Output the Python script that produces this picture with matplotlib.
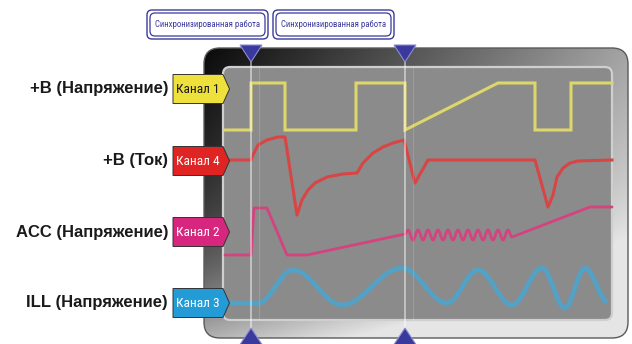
import numpy as np
import matplotlib
matplotlib.use("Agg")
import matplotlib.pyplot as plt
from matplotlib.patches import FancyBboxPatch, Polygon, PathPatch
from matplotlib.path import Path

# ---- waveform data (screen coordinates: x to the right, y downward) ----
# Channel 1: +B voltage
ch1_x = [225, 251, 251, 285, 285, 356, 356, 405, 405, 498, 535, 535, 571, 571, 612]
ch1_y = [130, 130, 83, 83, 130, 130, 83, 83, 130, 83, 83, 130, 130, 83, 83]

# Channel 4: +B current
ch4_x = [225, 251, 253, 258, 267, 278, 285, 297, 302, 308, 315, 327, 343, 357,
         363, 373, 383, 393, 404, 415, 428, 535, 548, 553, 557, 563, 570, 578, 612]
ch4_y = [160, 160, 155, 145, 140, 137, 137, 215, 200, 190, 183, 177, 174, 173,
         163, 153, 147, 143, 140, 183, 160, 160, 207, 195, 177, 168, 163, 161, 160]

# Channel 2: ACC voltage (step, ramp, ripple, ramp)
ch2_x = [225, 251, 254, 267, 287, 307, 405]
ch2_y = [255, 255, 208, 208, 255, 255, 234]
ch2_ripple_x = [405, 408, 413, 418, 423, 428, 433, 438, 443, 448, 453, 458,
                463, 468, 473, 478, 483, 488, 493, 498, 503, 508, 512]
ch2_ripple_y = [234, 230, 240, 230, 240, 230, 240, 230, 240, 230, 240, 230,
                240, 230, 240, 230, 240, 230, 240, 230, 240, 230, 237]
ch2_tail_x = [512, 590, 612]
ch2_tail_y = [237, 207, 207]

# Channel 3: ILL voltage (turning points of the oscillation)
ch3_x = [225, 258, 293, 342, 402, 447, 478, 512, 542, 565, 585, 608]
ch3_y = [303, 303, 270, 305, 268, 303, 270, 305, 268, 308, 268, 302]

# synchronisation markers
sync_x = [251, 405]
sync_text = "Синхронизированная работа"

# channel tags
tag_names = ["Канал 1", "Канал 4", "Канал 2", "Канал 3"]
tag_colors = ["#efe13c", "#e02424", "#d6267e", "#239bd6"]
tag_text_colors = ["#1a1a1a", "white", "white", "white"]
signal_labels = ["+B (Напряжение)", "+B (Ток)", "ACC (Напряжение)", "ILL (Напряжение)"]
tag_y = [89, 161, 232, 303]

NARROW = ["Roboto Condensed", "Liberation Sans Narrow", "DejaVu Sans"]
BOLD = ["Liberation Sans", "DejaVu Sans"]
NAVY = "#3a3a9e"

W, H = 632, 344
fig = plt.figure(figsize=(W / 100, H / 100), dpi=100)
ax = fig.add_axes([0, 0, 1, 1])
ax.set_xlim(0, W)
ax.set_ylim(H, 0)
ax.axis("off")


def smooth_path(xs, ys, k=0.36):
    verts = [(xs[0], ys[0])]
    codes = [Path.MOVETO]
    for x0, y0, x1, y1 in zip(xs[:-1], ys[:-1], xs[1:], ys[1:]):
        d = x1 - x0
        verts += [(x0 + k * d, y0), (x1 - k * d, y1), (x1, y1)]
        codes += [Path.CURVE4] * 3
    return Path(verts, codes)


# ---- oscilloscope body with shaded bezel ----
fx0, fx1, fy0, fy1 = 204, 628, 48, 338
frame = FancyBboxPatch((fx0, fy0), fx1 - fx0, fy1 - fy0,
                       boxstyle="round,pad=0,rounding_size=16",
                       facecolor="none", edgecolor="#5a5a5a", lw=1.0, zorder=3)
ax.add_patch(frame)
u, v = np.meshgrid(np.linspace(0, 1, 300), np.linspace(0, 1, 200))
shade = np.clip(0.04 + 0.6 * u + 0.3 * v + 0.35 * v ** 4, 0, 0.9)
img = ax.imshow(np.dstack([shade, shade, shade]), extent=(fx0, fx1, fy1, fy0),
                origin="upper", aspect="auto", interpolation="bilinear", zorder=1)
img.set_clip_path(frame)

# screen
sx0, sx1, sy0, sy1 = 223, 612, 67, 320
screen = FancyBboxPatch((sx0, sy0), sx1 - sx0, sy1 - sy0,
                        boxstyle="round,pad=0,rounding_size=7",
                        facecolor="#8b8b8c", edgecolor="#cfcfcf", lw=1.6, zorder=2)
ax.add_patch(screen)
ax.set_xlim(0, W)
ax.set_ylim(H, 0)

# ---- signals ----
ax.plot(ch1_x, ch1_y, color="#ddd66a", lw=2.2, solid_joinstyle="miter", zorder=4)
ax.plot(ch4_x, ch4_y, color="#d94444", lw=2.2, solid_joinstyle="round", zorder=4)
ax.plot(ch2_x, ch2_y, color="#d4437f", lw=2.0, solid_capstyle="round", zorder=4)
ax.add_patch(PathPatch(smooth_path(ch2_ripple_x, ch2_ripple_y), facecolor="none",
                       edgecolor="#d4437f", lw=2.0, zorder=4))
ax.plot(ch2_tail_x, ch2_tail_y, color="#d4437f", lw=2.0, solid_capstyle="round", zorder=4)
ax.add_patch(PathPatch(smooth_path(ch3_x, ch3_y), facecolor="none",
                       edgecolor="#4aa5cf", lw=3.4, alpha=0.85, zorder=4))

# ---- sync markers ----
for sx in sync_x:
    ax.plot([sx, sx], [58, 334], color="white", lw=1.2, alpha=0.55, zorder=5)
    ax.plot([sx + 8, sx + 8], [67, 320], color="white", lw=0.8, alpha=0.15, zorder=5)
    ax.add_patch(Polygon([(sx - 11, 45), (sx + 11, 45), (sx, 62)], closed=True,
                         facecolor=NAVY, edgecolor="#8c8cd0", lw=0.8, zorder=6))
    ax.add_patch(Polygon([(sx - 12, 346), (sx + 12, 346), (sx, 328)], closed=True,
                         facecolor=NAVY, edgecolor="#8c8cd0", lw=0.8, zorder=6))

for cx in [207.5, 333.5]:
    for pad, lw in [(0, 1.0), (3, 0.9)]:
        ax.add_patch(FancyBboxPatch((cx - 60.5 + pad, 10 + pad), 121 - 2 * pad, 29 - 2 * pad,
                                    boxstyle="round,pad=0,rounding_size=5",
                                    facecolor="white", edgecolor=NAVY, lw=lw, zorder=6))
    ax.text(cx, 24.5, sync_text, color=NAVY, fontsize=6.3, family=NARROW,
            fontstretch="condensed", ha="center", va="center", zorder=7)

# ---- channel tags and labels ----
for name, col, tcol, lab, ty in zip(tag_names, tag_colors, tag_text_colors, signal_labels, tag_y):
    ax.add_patch(Polygon([(173, ty - 14.5), (223, ty - 14.5), (229.5, ty),
                          (223, ty + 14.5), (173, ty + 14.5)], closed=True,
                         facecolor=col, edgecolor="#333333", lw=0.7, zorder=7))
    ax.text(198, ty + 0.5, name, color=tcol, fontsize=9.6, family=NARROW,
            fontstretch="condensed", ha="center", va="center", zorder=8)
    ax.text(168, ty, lab, color="#1a1a1a", fontsize=12, family=BOLD,
            fontweight="bold", ha="right", va="center", zorder=8)

fig.savefig("out.png", dpi=100)
